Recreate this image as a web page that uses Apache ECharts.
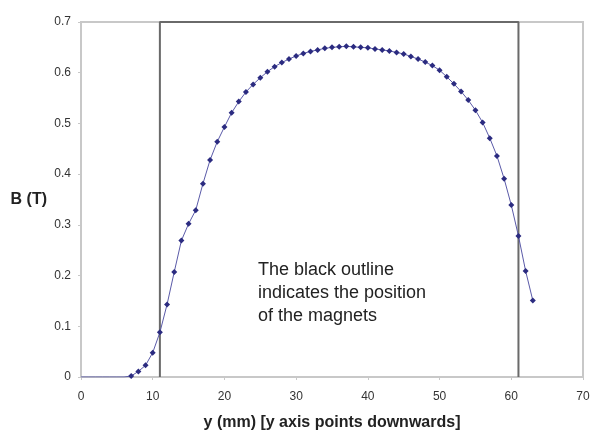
<!DOCTYPE html>
<html><head><meta charset="utf-8">
<script src="https://cdn.jsdelivr.net/npm/echarts@6/dist/echarts.min.js"></script>
<style>html,body{margin:0;padding:0;background:#fff}#c{width:594px;height:436px}</style>
</head><body><div id="c"></div>
<script>
const positions = [0,1,2,3,4,5,6,7,8,9,10,11,12,13,14,15,16,17,18,19,20,21,22,23,24,25,26,27,28,29,30,31,32,33,34,35,36,37,38,39,40,41,42,43,44,45,46,47,48,49,50,51,52,53,54,55,56,57,58,59,60,61,62,63];
const fieldB = [0,0,0,0,0,0,0,0.002,0.011,0.023,0.048,0.088,0.143,0.207,0.269,0.302,0.329,0.381,0.428,0.464,0.493,0.521,0.543,0.562,0.577,0.590,0.602,0.612,0.620,0.627,0.633,0.638,0.642,0.645,0.648,0.650,0.651,0.652,0.651,0.650,0.649,0.647,0.645,0.643,0.640,0.637,0.632,0.627,0.621,0.614,0.605,0.592,0.578,0.563,0.546,0.526,0.502,0.471,0.436,0.391,0.339,0.278,0.209,0.151];
const firstMarker = 7;
const magnetX = [11, 11, 61, 61];
const magnetY = [0, 0.7, 0.7, 0];
const xTicks = [0,10,20,30,40,50,60,70];
const yTicks = [0,0.1,0.2,0.3,0.4,0.5,0.6,0.7];
const noteLines = ["The black outline", "indicates the position", "of the magnets"];

const chart = echarts.init(document.getElementById('c'), null, {renderer:'canvas'});
const font = '"Liberation Sans", Arial, sans-serif';
chart.setOption({
  animation:false,
  grid:{left:81, right:11, top:22, bottom:56, show:true, borderColor:'#c8c8c8', borderWidth:2, backgroundColor:'#fff'},
  xAxis:{type:'value', min:0, max:70, interval:10,
    name:'y (mm) [y axis points downwards]', nameLocation:'middle', nameGap:38,
    nameTextStyle:{fontFamily:font, fontSize:16, fontWeight:'bold', color:'#222'},
    axisLine:{show:true, lineStyle:{color:'#c8c8c8', width:2}},
    axisTick:{show:true, length:3, lineStyle:{color:'#c8c8c8'}},
    axisLabel:{fontFamily:font, fontSize:12, color:'#333', margin:14, formatter:v=>xTicks.includes(v)?String(v):''},
    splitLine:{show:false}},
  yAxis:{type:'value', min:0, max:0.7, interval:0.1,
    name:'B (T)', nameLocation:'middle', nameGap:34, nameRotate:0,
    nameTextStyle:{fontFamily:font, fontSize:16, fontWeight:'bold', color:'#222'},
    axisLine:{show:true, lineStyle:{color:'#c8c8c8', width:2}},
    axisTick:{show:true, length:3, lineStyle:{color:'#c8c8c8'}},
    axisLabel:{fontFamily:font, fontSize:12, color:'#333', margin:10,
      formatter:v=>{const t=yTicks.find(k=>Math.abs(k-v)<1e-9);return t===undefined?'':String(+t.toFixed(1));}},
    splitLine:{show:false}},
  series:[
    {type:'line', data:magnetX.map((x,i)=>[x,magnetY[i]]), symbol:'none',
     lineStyle:{color:'#6a6a6a', width:2}, z:1, silent:true},
    {type:'line', data:positions.map((x,i)=>({value:[x,fieldB[i]], symbolSize: i>=firstMarker?6:0})),
     symbol:'diamond', showAllSymbol:true,
     itemStyle:{color:'#2b2b80'}, lineStyle:{color:'#5a5aa8', width:1}, z:3}
  ],
  graphic:[{type:'text', left:258, top:259,
    style:{text:noteLines.join('\n'), fontFamily:font, fontSize:18, lineHeight:23, fill:'#222'}}]
});
</script></body></html>
